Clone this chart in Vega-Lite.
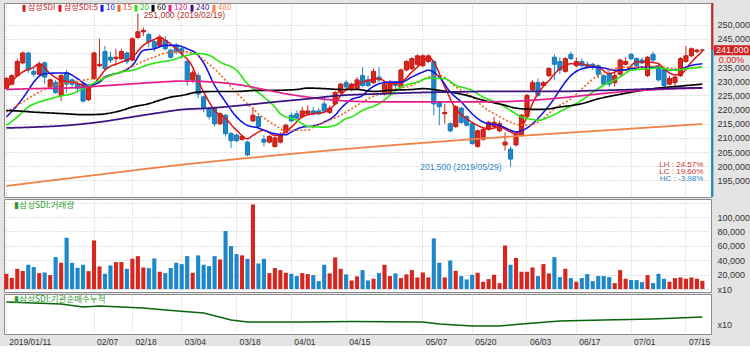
{
"$schema":"https://vega.github.io/schema/vega-lite/v6.json",
"background":"#e4e4e4",
"padding":{"left":3,"top":1,"right":0,"bottom":0},
"spacing":2,
"bounds":"flush",
"config":{
 "view":{"fill":"#ffffff","stroke":"#8c8c8c","strokeWidth":1},
 "axis":{"labelFont":"Liberation Sans","labelColor":"#333333","gridColor":"#c4c4c4","gridDash":[1,2],"gridWidth":1,"domain":false,"ticks":false,"title":null},
 "legend":{"columnPadding":-10,"labelOffset":0}
},
"resolve":{"scale":{"x":"shared","y":"independent","color":"independent"},"axis":{"x":"independent","y":"independent"}},
"datasets":{
"c":[
{"d":"01/11","o":227500,"h":231500,"l":227000,"c":231000,"v":21300,"t":"u"},
{"d":"01/14","o":229000,"h":232500,"l":228500,"c":232000,"v":15700,"t":"u"},
{"d":"01/15","o":232000,"h":238000,"l":231500,"c":237000,"v":28200,"t":"u"},
{"d":"01/16","o":236500,"h":240500,"l":236000,"c":240000,"v":25000,"t":"u"},
{"d":"01/17","o":240000,"h":240500,"l":233000,"c":234000,"v":33800,"t":"d"},
{"d":"01/18","o":233500,"h":235000,"l":231500,"c":232500,"v":30600,"t":"d"},
{"d":"01/21","o":232500,"h":237000,"l":232000,"c":236000,"v":22200,"t":"u"},
{"d":"01/22","o":236500,"h":237000,"l":229000,"c":231500,"v":23100,"t":"d"},
{"d":"01/23","o":228000,"h":231000,"l":227500,"c":230500,"v":19400,"t":"u"},
{"d":"01/24","o":229500,"h":230500,"l":225500,"c":226000,"v":44400,"t":"d"},
{"d":"01/25","o":225000,"h":232500,"l":223000,"c":232000,"v":36600,"t":"u"},
{"d":"01/28","o":233000,"h":234000,"l":226000,"c":229000,"v":71300,"t":"d"},
{"d":"01/29","o":230500,"h":231000,"l":228000,"c":229000,"v":36600,"t":"d"},
{"d":"01/30","o":229000,"h":230000,"l":226000,"c":227500,"v":29600,"t":"d"},
{"d":"01/31","o":229000,"h":229500,"l":222500,"c":223000,"v":33800,"t":"d"},
{"d":"02/01","o":223500,"h":228000,"l":223000,"c":227500,"v":25000,"t":"u"},
{"d":"02/07","o":231000,"h":240500,"l":230500,"c":240000,"v":67600,"t":"u"},
{"d":"02/08","o":235500,"h":245000,"l":235000,"c":236000,"v":31500,"t":"u"},
{"d":"02/11","o":240500,"h":242500,"l":234000,"c":234500,"v":21300,"t":"d"},
{"d":"02/12","o":238500,"h":240500,"l":236500,"c":237500,"v":32900,"t":"d"},
{"d":"02/13","o":238000,"h":241500,"l":235500,"c":238500,"v":37500,"t":"u"},
{"d":"02/14","o":238000,"h":241500,"l":237500,"c":240500,"v":37500,"t":"u"},
{"d":"02/15","o":240000,"h":240500,"l":236000,"c":237000,"v":28200,"t":"d"},
{"d":"02/18","o":237500,"h":245500,"l":237000,"c":245000,"v":42100,"t":"u"},
{"d":"02/19","o":245500,"h":251000,"l":245000,"c":247500,"v":45800,"t":"u"},
{"d":"02/20","o":247500,"h":249000,"l":246000,"c":248000,"v":30100,"t":"u"},
{"d":"02/21","o":246500,"h":247000,"l":242000,"c":244000,"v":29200,"t":"d"},
{"d":"02/22","o":244000,"h":244500,"l":240500,"c":242000,"v":42600,"t":"d"},
{"d":"02/25","o":242500,"h":246500,"l":242000,"c":245500,"v":24100,"t":"u"},
{"d":"02/26","o":244500,"h":246000,"l":241000,"c":241500,"v":22200,"t":"d"},
{"d":"02/27","o":241000,"h":241500,"l":238000,"c":238500,"v":29200,"t":"d"},
{"d":"02/28","o":242500,"h":243500,"l":239500,"c":240500,"v":36600,"t":"d"},
{"d":"03/04","o":241500,"h":242500,"l":238000,"c":240000,"v":34700,"t":"d"},
{"d":"03/05","o":237000,"h":237500,"l":228500,"c":230500,"v":45800,"t":"d"},
{"d":"03/06","o":230500,"h":234000,"l":229500,"c":233000,"v":22700,"t":"u"},
{"d":"03/07","o":232000,"h":233000,"l":224000,"c":225500,"v":46800,"t":"d"},
{"d":"03/08","o":224500,"h":225000,"l":219000,"c":220500,"v":33800,"t":"d"},
{"d":"03/11","o":220500,"h":221000,"l":216500,"c":217500,"v":31900,"t":"d"},
{"d":"03/12","o":220500,"h":221000,"l":214000,"c":215000,"v":45800,"t":"d"},
{"d":"03/13","o":215000,"h":219000,"l":214500,"c":218500,"v":41200,"t":"u"},
{"d":"03/14","o":218000,"h":218500,"l":210500,"c":211500,"v":80600,"t":"d"},
{"d":"03/15","o":211500,"h":212000,"l":206500,"c":209000,"v":59700,"t":"d"},
{"d":"03/18","o":211000,"h":211500,"l":208500,"c":209000,"v":48600,"t":"d"},
{"d":"03/19","o":209500,"h":211000,"l":209000,"c":210500,"v":46800,"t":"u"},
{"d":"03/20","o":208500,"h":209000,"l":203500,"c":204000,"v":42100,"t":"d"},
{"d":"03/21","o":216000,"h":221000,"l":215500,"c":218000,"v":117600,"t":"u"},
{"d":"03/22","o":217500,"h":218000,"l":213000,"c":214000,"v":35600,"t":"d"},
{"d":"03/25","o":209500,"h":211000,"l":207000,"c":208500,"v":42100,"t":"d"},
{"d":"03/26","o":208500,"h":211000,"l":208000,"c":210500,"v":22200,"t":"u"},
{"d":"03/27","o":207000,"h":211000,"l":206500,"c":210000,"v":29200,"t":"u"},
{"d":"03/28","o":208500,"h":212000,"l":208000,"c":211000,"v":26400,"t":"u"},
{"d":"03/29","o":212000,"h":215000,"l":211500,"c":214500,"v":22700,"t":"u"},
{"d":"04/01","o":218000,"h":219000,"l":215500,"c":216000,"v":21300,"t":"d"},
{"d":"04/02","o":218500,"h":219500,"l":216500,"c":217000,"v":18100,"t":"d"},
{"d":"04/03","o":217500,"h":221000,"l":217000,"c":219500,"v":22200,"t":"u"},
{"d":"04/04","o":218500,"h":221500,"l":218000,"c":219500,"v":20800,"t":"u"},
{"d":"04/05","o":219500,"h":221000,"l":218000,"c":218500,"v":19400,"t":"d"},
{"d":"04/08","o":219500,"h":220500,"l":218000,"c":218500,"v":11100,"t":"d"},
{"d":"04/09","o":222000,"h":224500,"l":219000,"c":219500,"v":33800,"t":"d"},
{"d":"04/10","o":219000,"h":221500,"l":218500,"c":220500,"v":21800,"t":"u"},
{"d":"04/11","o":222000,"h":226500,"l":221500,"c":226000,"v":44000,"t":"u"},
{"d":"04/12","o":226000,"h":229500,"l":225500,"c":229000,"v":28200,"t":"u"},
{"d":"04/15","o":229500,"h":230500,"l":227000,"c":228000,"v":20400,"t":"d"},
{"d":"04/16","o":227000,"h":229500,"l":226500,"c":229000,"v":12000,"t":"u"},
{"d":"04/17","o":227500,"h":231500,"l":227000,"c":230500,"v":17600,"t":"u"},
{"d":"04/18","o":232000,"h":235000,"l":228000,"c":228500,"v":26400,"t":"d"},
{"d":"04/19","o":230500,"h":232000,"l":228000,"c":228500,"v":12000,"t":"d"},
{"d":"04/22","o":229500,"h":234500,"l":229000,"c":233500,"v":14400,"t":"u"},
{"d":"04/23","o":231500,"h":235000,"l":229500,"c":230500,"v":22200,"t":"d"},
{"d":"04/24","o":225500,"h":229500,"l":225000,"c":229000,"v":33800,"t":"u"},
{"d":"04/25","o":226000,"h":230500,"l":225500,"c":229500,"v":18100,"t":"u"},
{"d":"04/26","o":229500,"h":230000,"l":227500,"c":228500,"v":21800,"t":"d"},
{"d":"04/29","o":228000,"h":234500,"l":227500,"c":234000,"v":15300,"t":"u"},
{"d":"04/30","o":234000,"h":237500,"l":233500,"c":237000,"v":20400,"t":"u"},
{"d":"05/02","o":234500,"h":238500,"l":234000,"c":238000,"v":26400,"t":"u"},
{"d":"05/03","o":236000,"h":239500,"l":235500,"c":239000,"v":16200,"t":"u"},
{"d":"05/07","o":235500,"h":239500,"l":235000,"c":239000,"v":23100,"t":"u"},
{"d":"05/08","o":237000,"h":239500,"l":236500,"c":239000,"v":16200,"t":"u"},
{"d":"05/09","o":237000,"h":237500,"l":218000,"c":222000,"v":70400,"t":"d"},
{"d":"05/10","o":222500,"h":223000,"l":214500,"c":221000,"v":36600,"t":"d"},
{"d":"05/13","o":218500,"h":222000,"l":215000,"c":219000,"v":16200,"t":"u"},
{"d":"05/14","o":215000,"h":215500,"l":212000,"c":212500,"v":39800,"t":"d"},
{"d":"05/15","o":214000,"h":221500,"l":213500,"c":221000,"v":25500,"t":"u"},
{"d":"05/16","o":220500,"h":221000,"l":215000,"c":215500,"v":18100,"t":"d"},
{"d":"05/17","o":217500,"h":218000,"l":214000,"c":214500,"v":13400,"t":"d"},
{"d":"05/20","o":215000,"h":215500,"l":207500,"c":208000,"v":19900,"t":"d"},
{"d":"05/21","o":207000,"h":213000,"l":206500,"c":212500,"v":22700,"t":"u"},
{"d":"05/22","o":209500,"h":213500,"l":209000,"c":213000,"v":10200,"t":"u"},
{"d":"05/23","o":213000,"h":216000,"l":212500,"c":215500,"v":13900,"t":"u"},
{"d":"05/24","o":214000,"h":217500,"l":213500,"c":215500,"v":19900,"t":"u"},
{"d":"05/27","o":212500,"h":216000,"l":212000,"c":215000,"v":8300,"t":"u"},
{"d":"05/28","o":207500,"h":212000,"l":205500,"c":208500,"v":60600,"t":"u"},
{"d":"05/29","o":206000,"h":207000,"l":201500,"c":202500,"v":33800,"t":"d"},
{"d":"05/30","o":207500,"h":212000,"l":207000,"c":211500,"v":43100,"t":"u"},
{"d":"05/31","o":211000,"h":218500,"l":210500,"c":218000,"v":24100,"t":"u"},
{"d":"06/03","o":217500,"h":225500,"l":217000,"c":225000,"v":24100,"t":"u"},
{"d":"06/04","o":227000,"h":230500,"l":226500,"c":229500,"v":30100,"t":"u"},
{"d":"06/05","o":229500,"h":231000,"l":224500,"c":225000,"v":18100,"t":"d"},
{"d":"06/07","o":228500,"h":230000,"l":228000,"c":229500,"v":34700,"t":"u"},
{"d":"06/10","o":232000,"h":235000,"l":231500,"c":234500,"v":21800,"t":"u"},
{"d":"06/11","o":238500,"h":239500,"l":230500,"c":236000,"v":44400,"t":"d"},
{"d":"06/12","o":237000,"h":238500,"l":232500,"c":234000,"v":16700,"t":"d"},
{"d":"06/13","o":233500,"h":238500,"l":233000,"c":238000,"v":28200,"t":"u"},
{"d":"06/14","o":239500,"h":240500,"l":237500,"c":238000,"v":15300,"t":"d"},
{"d":"06/17","o":235500,"h":238500,"l":235000,"c":237000,"v":10200,"t":"u"},
{"d":"06/18","o":237000,"h":238000,"l":235000,"c":235500,"v":15300,"t":"d"},
{"d":"06/19","o":236000,"h":237000,"l":234500,"c":235000,"v":20800,"t":"d"},
{"d":"06/20","o":236000,"h":236500,"l":234000,"c":235000,"v":11100,"t":"d"},
{"d":"06/21","o":235500,"h":236000,"l":231000,"c":232500,"v":18100,"t":"d"},
{"d":"06/24","o":232000,"h":232500,"l":228500,"c":229000,"v":18100,"t":"d"},
{"d":"06/25","o":232500,"h":233500,"l":228000,"c":229000,"v":16700,"t":"d"},
{"d":"06/26","o":229500,"h":233000,"l":228000,"c":232000,"v":8300,"t":"u"},
{"d":"06/27","o":232500,"h":238000,"l":232000,"c":237500,"v":26400,"t":"u"},
{"d":"06/28","o":236000,"h":238500,"l":235500,"c":237000,"v":14400,"t":"u"},
{"d":"07/01","o":239500,"h":240000,"l":237500,"c":238000,"v":12500,"t":"d"},
{"d":"07/02","o":238000,"h":238500,"l":235000,"c":235500,"v":12500,"t":"d"},
{"d":"07/03","o":237500,"h":238500,"l":236000,"c":236500,"v":9700,"t":"d"},
{"d":"07/04","o":232000,"h":239000,"l":231500,"c":238500,"v":19400,"t":"u"},
{"d":"07/05","o":239500,"h":240500,"l":237000,"c":237500,"v":8300,"t":"d"},
{"d":"07/08","o":235500,"h":236000,"l":230000,"c":230500,"v":21300,"t":"d"},
{"d":"07/09","o":234000,"h":234500,"l":228000,"c":228500,"v":14400,"t":"d"},
{"d":"07/10","o":229000,"h":232000,"l":228500,"c":231000,"v":10200,"t":"u"},
{"d":"07/11","o":229500,"h":232500,"l":227500,"c":231500,"v":15300,"t":"u"},
{"d":"07/12","o":232000,"h":238500,"l":231500,"c":238000,"v":16200,"t":"u"},
{"d":"07/15","o":237000,"h":242500,"l":236500,"c":239000,"v":14400,"t":"u"},
{"d":"07/16","o":239000,"h":242000,"l":238500,"c":241500,"v":16200,"t":"u"},
{"d":"07/17","o":240500,"h":241500,"l":240000,"c":241000,"v":14400,"t":"u"},
{"d":"07/18","o":241000,"h":241500,"l":240500,"c":241000,"v":11500,"t":"u"}
],
"ma":[
{"d":"01/11","s":"5","v":227400},{"d":"01/15","s":"5","v":231900},{"d":"01/16","s":"5","v":233300},{"d":"01/18","s":"5","v":235000},{"d":"01/21","s":"5","v":236200},{"d":"01/23","s":"5","v":232700},{"d":"01/25","s":"5","v":230300},{"d":"01/29","s":"5","v":229700},{"d":"01/31","s":"5","v":228600},{"d":"02/01","s":"5","v":227600},{"d":"02/08","s":"5","v":231500},{"d":"02/11","s":"5","v":233900},{"d":"02/14","s":"5","v":236800},{"d":"02/18","s":"5","v":238600},{"d":"02/20","s":"5","v":242700},{"d":"02/22","s":"5","v":244800},{"d":"02/25","s":"5","v":245600},{"d":"02/26","s":"5","v":244500},{"d":"02/28","s":"5","v":241500},{"d":"03/04","s":"5","v":239700},{"d":"03/06","s":"5","v":235000},{"d":"03/07","s":"5","v":230300},{"d":"03/11","s":"5","v":222700},{"d":"03/12","s":"5","v":219700},{"d":"03/14","s":"5","v":216800},{"d":"03/18","s":"5","v":212700},{"d":"03/20","s":"5","v":209700},{"d":"03/21","s":"5","v":210900},{"d":"03/25","s":"5","v":212700},{"d":"03/27","s":"5","v":210900},{"d":"03/28","s":"5","v":211100},{"d":"04/01","s":"5","v":213800},{"d":"04/03","s":"5","v":217400},{"d":"04/05","s":"5","v":218500},{"d":"04/09","s":"5","v":219100},{"d":"04/11","s":"5","v":222100},{"d":"04/12","s":"5","v":225000},{"d":"04/16","s":"5","v":228300},{"d":"04/18","s":"5","v":229700},{"d":"04/19","s":"5","v":230300},{"d":"04/23","s":"5","v":230900},{"d":"04/25","s":"5","v":229100},{"d":"04/29","s":"5","v":229700},{"d":"05/02","s":"5","v":233300},{"d":"05/07","s":"5","v":236800},{"d":"05/08","s":"5","v":238600},{"d":"05/09","s":"5","v":236800},{"d":"05/13","s":"5","v":228000},{"d":"05/15","s":"5","v":220300},{"d":"05/17","s":"5","v":216800},{"d":"05/21","s":"5","v":214400},{"d":"05/23","s":"5","v":213200},{"d":"05/27","s":"5","v":213800},{"d":"05/29","s":"5","v":212100},{"d":"05/30","s":"5","v":211500},{"d":"05/31","s":"5","v":213800},{"d":"06/03","s":"5","v":217400},{"d":"06/04","s":"5","v":222100},{"d":"06/05","s":"5","v":225600},{"d":"06/10","s":"5","v":230300},{"d":"06/12","s":"5","v":234400},{"d":"06/14","s":"5","v":236200},{"d":"06/18","s":"5","v":236200},{"d":"06/19","s":"5","v":235600},{"d":"06/21","s":"5","v":235000},{"d":"06/25","s":"5","v":232700},{"d":"06/27","s":"5","v":233900},{"d":"06/28","s":"5","v":234000},{"d":"07/02","s":"5","v":236800},{"d":"07/04","s":"5","v":236800},{"d":"07/08","s":"5","v":236200},{"d":"07/09","s":"5","v":234400},{"d":"07/11","s":"5","v":232300},{"d":"07/12","s":"5","v":232500},{"d":"07/16","s":"5","v":236800},{"d":"07/18","s":"5","v":240600},
{"d":"01/11","s":"10","v":217400},{"d":"01/15","s":"10","v":221500},{"d":"01/17","s":"10","v":226800},{"d":"01/18","s":"10","v":229700},{"d":"01/22","s":"10","v":232700},{"d":"01/24","s":"10","v":232900},{"d":"01/28","s":"10","v":232900},{"d":"01/30","s":"10","v":230900},{"d":"02/01","s":"10","v":228600},{"d":"02/08","s":"10","v":229700},{"d":"02/11","s":"10","v":231500},{"d":"02/14","s":"10","v":233300},{"d":"02/18","s":"10","v":235600},{"d":"02/20","s":"10","v":240900},{"d":"02/22","s":"10","v":241500},{"d":"02/26","s":"10","v":242700},{"d":"02/28","s":"10","v":242700},{"d":"03/05","s":"10","v":241500},{"d":"03/07","s":"10","v":239200},{"d":"03/08","s":"10","v":236500},{"d":"03/12","s":"10","v":228600},{"d":"03/14","s":"10","v":222700},{"d":"03/18","s":"10","v":217400},{"d":"03/20","s":"10","v":214400},{"d":"03/22","s":"10","v":213500},{"d":"03/25","s":"10","v":212700},{"d":"03/27","s":"10","v":211500},{"d":"03/29","s":"10","v":211100},{"d":"04/01","s":"10","v":212100},{"d":"04/03","s":"10","v":213800},{"d":"04/05","s":"10","v":214200},{"d":"04/09","s":"10","v":215600},{"d":"04/11","s":"10","v":218000},{"d":"04/12","s":"10","v":220300},{"d":"04/16","s":"10","v":223600},{"d":"04/18","s":"10","v":225000},{"d":"04/19","s":"10","v":226800},{"d":"04/23","s":"10","v":229100},{"d":"04/25","s":"10","v":229700},{"d":"04/29","s":"10","v":229700},{"d":"05/02","s":"10","v":231500},{"d":"05/07","s":"10","v":233300},{"d":"05/08","s":"10","v":233900},{"d":"05/10","s":"10","v":231500},{"d":"05/14","s":"10","v":226200},{"d":"05/16","s":"10","v":222700},{"d":"05/20","s":"10","v":218500},{"d":"05/22","s":"10","v":215600},{"d":"05/23","s":"10","v":215000},{"d":"05/27","s":"10","v":214400},{"d":"05/29","s":"10","v":212700},{"d":"05/30","s":"10","v":212100},{"d":"06/03","s":"10","v":213500},{"d":"06/05","s":"10","v":216800},{"d":"06/07","s":"10","v":219000},{"d":"06/11","s":"10","v":224000},{"d":"06/12","s":"10","v":227000},{"d":"06/14","s":"10","v":232000},{"d":"06/18","s":"10","v":234400},{"d":"06/20","s":"10","v":235000},{"d":"06/24","s":"10","v":234700},{"d":"06/26","s":"10","v":233900},{"d":"06/27","s":"10","v":233900},{"d":"07/01","s":"10","v":234400},{"d":"07/03","s":"10","v":235000},{"d":"07/05","s":"10","v":235000},{"d":"07/09","s":"10","v":234400},{"d":"07/11","s":"10","v":233900},{"d":"07/12","s":"10","v":234400},{"d":"07/16","s":"10","v":235600},{"d":"07/18","s":"10","v":236200},
{"d":"01/11","s":"15","v":219100},{"d":"01/16","s":"15","v":222700},{"d":"01/21","s":"15","v":226200},{"d":"01/24","s":"15","v":228600},{"d":"01/29","s":"15","v":229700},{"d":"02/01","s":"15","v":230700},{"d":"02/11","s":"15","v":231500},{"d":"02/14","s":"15","v":233300},{"d":"02/19","s":"15","v":236200},{"d":"02/22","s":"15","v":238600},{"d":"02/27","s":"15","v":240300},{"d":"03/05","s":"15","v":240300},{"d":"03/07","s":"15","v":239000},{"d":"03/11","s":"15","v":236000},{"d":"03/13","s":"15","v":232500},{"d":"03/15","s":"15","v":228000},{"d":"03/18","s":"15","v":226000},{"d":"03/20","s":"15","v":222000},{"d":"03/25","s":"15","v":217000},{"d":"03/27","s":"15","v":214500},{"d":"03/29","s":"15","v":212500},{"d":"04/01","s":"15","v":212700},{"d":"04/04","s":"15","v":212700},{"d":"04/05","s":"15","v":213800},{"d":"04/10","s":"15","v":216200},{"d":"04/12","s":"15","v":218000},{"d":"04/16","s":"15","v":220300},{"d":"04/19","s":"15","v":223800},{"d":"04/25","s":"15","v":226800},{"d":"05/02","s":"15","v":228600},{"d":"05/08","s":"15","v":231500},{"d":"05/10","s":"15","v":232100},{"d":"05/15","s":"15","v":228000},{"d":"05/20","s":"15","v":224500},{"d":"05/22","s":"15","v":221000},{"d":"05/27","s":"15","v":217500},{"d":"05/29","s":"15","v":215500},{"d":"05/31","s":"15","v":214500},{"d":"06/03","s":"15","v":214500},{"d":"06/05","s":"15","v":215500},{"d":"06/11","s":"15","v":220300},{"d":"06/14","s":"15","v":223800},{"d":"06/19","s":"15","v":229100},{"d":"06/21","s":"15","v":232100},{"d":"06/25","s":"15","v":233900},{"d":"06/28","s":"15","v":235000},{"d":"07/03","s":"15","v":235000},{"d":"07/08","s":"15","v":235400},{"d":"07/11","s":"15","v":234400},{"d":"07/16","s":"15","v":234700},{"d":"07/18","s":"15","v":235400},
{"d":"01/11","s":"20","v":214400},{"d":"01/15","s":"20","v":217400},{"d":"01/17","s":"20","v":220900},{"d":"01/21","s":"20","v":222700},{"d":"01/23","s":"20","v":223800},{"d":"01/25","s":"20","v":224800},{"d":"01/29","s":"20","v":225600},{"d":"01/31","s":"20","v":227400},{"d":"02/08","s":"20","v":230300},{"d":"02/12","s":"20","v":232100},{"d":"02/14","s":"20","v":233300},{"d":"02/18","s":"20","v":233900},{"d":"02/21","s":"20","v":235900},{"d":"02/25","s":"20","v":236800},{"d":"02/27","s":"20","v":237400},{"d":"02/28","s":"20","v":238000},{"d":"03/05","s":"20","v":239200},{"d":"03/07","s":"20","v":239800},{"d":"03/11","s":"20","v":239200},{"d":"03/13","s":"20","v":236800},{"d":"03/18","s":"20","v":233900},{"d":"03/20","s":"20","v":229100},{"d":"03/25","s":"20","v":224400},{"d":"03/27","s":"20","v":220900},{"d":"03/28","s":"20","v":218500},{"d":"04/02","s":"20","v":216200},{"d":"04/04","s":"20","v":214100},{"d":"04/09","s":"20","v":213800},{"d":"04/11","s":"20","v":214400},{"d":"04/15","s":"20","v":216800},{"d":"04/16","s":"20","v":217400},{"d":"04/18","s":"20","v":219700},{"d":"04/23","s":"20","v":222100},{"d":"04/25","s":"20","v":225000},{"d":"04/29","s":"20","v":228000},{"d":"05/03","s":"20","v":229700},{"d":"05/08","s":"20","v":231100},{"d":"05/13","s":"20","v":230900},{"d":"05/15","s":"20","v":228600},{"d":"05/20","s":"20","v":226800},{"d":"05/22","s":"20","v":224400},{"d":"05/27","s":"20","v":222100},{"d":"05/29","s":"20","v":219700},{"d":"05/31","s":"20","v":217400},{"d":"06/04","s":"20","v":216500},{"d":"06/05","s":"20","v":216200},{"d":"06/10","s":"20","v":217400},{"d":"06/13","s":"20","v":220300},{"d":"06/18","s":"20","v":223300},{"d":"06/20","s":"20","v":226200},{"d":"06/24","s":"20","v":228600},{"d":"06/27","s":"20","v":231500},{"d":"07/01","s":"20","v":233900},{"d":"07/04","s":"20","v":234400},{"d":"07/08","s":"20","v":234700},{"d":"07/11","s":"20","v":233900},{"d":"07/15","s":"20","v":234400},{"d":"07/18","s":"20","v":235000},
{"d":"01/11","s":"60","v":219700},{"d":"01/16","s":"60","v":219400},{"d":"01/18","s":"60","v":219100},{"d":"01/23","s":"60","v":218800},{"d":"01/28","s":"60","v":218500},{"d":"01/31","s":"60","v":218200},{"d":"02/08","s":"60","v":218300},{"d":"02/12","s":"60","v":218800},{"d":"02/14","s":"60","v":219700},{"d":"02/18","s":"60","v":220900},{"d":"02/21","s":"60","v":222100},{"d":"02/25","s":"60","v":223300},{"d":"02/27","s":"60","v":224400},{"d":"03/04","s":"60","v":225000},{"d":"03/07","s":"60","v":226200},{"d":"03/12","s":"60","v":226400},{"d":"03/18","s":"60","v":226400},{"d":"03/22","s":"60","v":226800},{"d":"03/27","s":"60","v":226800},{"d":"04/02","s":"60","v":227100},{"d":"04/04","s":"60","v":227600},{"d":"04/09","s":"60","v":227400},{"d":"04/12","s":"60","v":227100},{"d":"04/17","s":"60","v":227100},{"d":"04/22","s":"60","v":226400},{"d":"04/25","s":"60","v":226800},{"d":"05/02","s":"60","v":227100},{"d":"05/07","s":"60","v":227400},{"d":"05/10","s":"60","v":226800},{"d":"05/14","s":"60","v":226200},{"d":"05/17","s":"60","v":225000},{"d":"05/22","s":"60","v":223300},{"d":"05/28","s":"60","v":221500},{"d":"05/30","s":"60","v":220500},{"d":"06/04","s":"60","v":220100},{"d":"06/07","s":"60","v":220100},{"d":"06/12","s":"60","v":220900},{"d":"06/18","s":"60","v":222100},{"d":"06/21","s":"60","v":223800},{"d":"06/27","s":"60","v":225400},{"d":"07/03","s":"60","v":226800},{"d":"07/08","s":"60","v":227600},{"d":"07/12","s":"60","v":228300},{"d":"07/18","s":"60","v":229000},
{"d":"01/11","s":"120","v":227100},{"d":"01/18","s":"120","v":227400},{"d":"01/28","s":"120","v":227600},{"d":"02/08","s":"120","v":228300},{"d":"02/18","s":"120","v":229100},{"d":"02/25","s":"120","v":229700},{"d":"03/04","s":"120","v":230100},{"d":"03/07","s":"120","v":230000},{"d":"03/12","s":"120","v":229700},{"d":"03/19","s":"120","v":228600},{"d":"03/25","s":"120","v":227100},{"d":"03/29","s":"120","v":225600},{"d":"04/04","s":"120","v":224400},{"d":"04/11","s":"120","v":223300},{"d":"04/17","s":"120","v":222900},{"d":"04/24","s":"120","v":222700},{"d":"05/03","s":"120","v":222700},{"d":"05/14","s":"120","v":222700},{"d":"05/22","s":"120","v":222700},{"d":"05/29","s":"120","v":222900},{"d":"06/04","s":"120","v":223300},{"d":"06/12","s":"120","v":224100},{"d":"06/20","s":"120","v":225300},{"d":"06/28","s":"120","v":226400},{"d":"07/08","s":"120","v":227100},{"d":"07/18","s":"120","v":227600},
{"d":"01/11","s":"240","v":213500},{"d":"01/18","s":"240","v":213800},{"d":"01/28","s":"240","v":214400},{"d":"02/08","s":"240","v":215600},{"d":"02/18","s":"240","v":217400},{"d":"02/25","s":"240","v":218900},{"d":"03/04","s":"240","v":220000},{"d":"03/11","s":"240","v":220500},{"d":"03/19","s":"240","v":221500},{"d":"03/27","s":"240","v":222700},{"d":"04/04","s":"240","v":223800},{"d":"04/12","s":"240","v":225000},{"d":"04/17","s":"240","v":225300},{"d":"04/24","s":"240","v":225600},{"d":"05/03","s":"240","v":226000},{"d":"05/14","s":"240","v":226200},{"d":"05/22","s":"240","v":226400},{"d":"06/04","s":"240","v":226400},{"d":"06/12","s":"240","v":226400},{"d":"06/20","s":"240","v":226700},{"d":"06/28","s":"240","v":227000},{"d":"07/08","s":"240","v":227400},{"d":"07/18","s":"240","v":227700},
{"d":"01/11","s":"480","v":193000},{"d":"02/07","s":"480","v":196800},{"d":"03/04","s":"480","v":200500},{"d":"03/26","s":"480","v":203600},{"d":"04/17","s":"480","v":206400},{"d":"05/13","s":"480","v":208800},{"d":"06/04","s":"480","v":211000},{"d":"06/27","s":"480","v":213000},{"d":"07/18","s":"480","v":214900}
],
"inst":[
{"d":"01/11","v":32},{"d":"01/25","v":30},{"d":"01/31","v":27},{"d":"02/08","v":28},{"d":"02/20","v":26},{"d":"02/26","v":24},{"d":"03/08","v":21},{"d":"03/15","v":14},{"d":"03/20","v":12},{"d":"04/03","v":12},{"d":"04/16","v":12.5},{"d":"05/07","v":12},{"d":"05/10","v":10},{"d":"05/20","v":8},{"d":"05/27","v":8},{"d":"05/31","v":10},{"d":"06/12","v":13},{"d":"06/24","v":14},{"d":"07/05","v":15},{"d":"07/18","v":17}
]
},
"vconcat":[
{
 "width":707,"height":194,
 "encoding":{
  "x":{"field":"d","type":"ordinal","scale":{"paddingInner":0.25,"paddingOuter":0.625,"align":0.04},"axis":{"values":["01/11","02/07","02/18","03/04","03/18","04/01","04/15","05/07","05/20","06/03","06/17","07/01","07/15"],"labels":false,"grid":true,"bandPosition":0.5}}
 },
 "layer":[
  {"data":{"name":"c"},"mark":{"type":"rule","strokeWidth":1,"clip":true},
   "encoding":{
    "y":{"field":"l","type":"quantitative","scale":{"domain":[189100,257670],"nice":false,"zero":false},"axis":{"orient":"right","values":[195000,200000,205000,210000,215000,220000,225000,230000,235000,240000,245000,250000],"labelExpr":"datum.value==240000?'':format(datum.value,',')","labelFontSize":9,"labelPadding":6,"grid":true}},
    "y2":{"field":"h"},
    "color":{"condition":{"test":"datum.t=='u'","value":"#d7261e"},"value":"#1c87c9"}}},
  {"data":{"name":"c"},"mark":{"type":"bar","strokeWidth":1,"clip":true},
   "encoding":{
    "y":{"field":"o","type":"quantitative","scale":{"domain":[189100,257670],"nice":false,"zero":false},"axis":{"orient":"right","values":[195000,200000,205000,210000,215000,220000,225000,230000,235000,240000,245000,250000],"labelExpr":"datum.value==240000?'':format(datum.value,',')","labelFontSize":9,"labelPadding":6,"grid":true}},
    "y2":{"field":"c"},
    "fill":{"condition":{"test":"datum.t=='u'","value":"#d7261e"},"value":"#1c87c9"},
    "stroke":{"condition":{"test":"datum.t=='u'","value":"#c01810"},"value":"#1878b4"}}},
  {"data":{"name":"ma"},"mark":{"type":"line","interpolate":"monotone","clip":true},
   "encoding":{
    "y":{"field":"v","type":"quantitative","scale":{"domain":[189100,257670],"nice":false,"zero":false},"axis":{"orient":"right","values":[195000,200000,205000,210000,215000,220000,225000,230000,235000,240000,245000,250000],"labelExpr":"datum.value==240000?'':format(datum.value,',')","labelFontSize":9,"labelPadding":6,"grid":true}},
    "color":{"field":"s","type":"nominal","scale":{"domain":["삼성SDI","5","10","15","20","60","120","240","480"],"range":["#d02020","#e01414","#1414e6","#f0641e","#2ce614","#000000","#e61e8c","#3c1482","#f08246"]},
     "legend":{"orient":"none","legendX":16,"legendY":1,"direction":"horizontal","columns":9,"title":null,"symbolType":"M0,-2.3V2.3","symbolSize":9,"symbolStrokeWidth":3,"labelFont":"Noto Sans CJK KR","labelFontSize":8,"labelOffset":0,"columnPadding":-10,"padding":0,
      "labelExpr":"datum.label=='5'?'삼성SDI:5':datum.label",
      "labelColor":{"expr":"datum.value=='10'?'#1414e6':datum.value=='15'?'#f04a1e':datum.value=='20'?'#22cc00':datum.value=='60'?'#000000':datum.value=='120'?'#e0208c':datum.value=='240'?'#3c148c':datum.value=='480'?'#f08c50':'#c82020'"}}},
    "strokeWidth":{"field":"s","type":"nominal","scale":{"domain":["삼성SDI","5","10","15","20","60","120","240","480"],"range":[1.5,1.8,1.6,1,1.6,1.5,1.5,1.5,2]},"legend":null},
    "strokeDash":{"field":"s","type":"nominal","scale":{"domain":["삼성SDI","5","10","15","20","60","120","240","480"],"range":[[1,0],[1,0],[1,0],[2,2],[1,0],[1,0],[1,0],[1,0],[1,0]]},"legend":null}}},
  {"data":{"values":[{"d":"02/19"}]},"mark":{"type":"rule","color":"#b03030","clip":false},
   "encoding":{"y":{"datum":251000,"type":"quantitative","scale":{"domain":[189100,257670],"nice":false,"zero":false},"axis":{"orient":"right","values":[195000,200000,205000,210000,215000,220000,225000,230000,235000,240000,245000,250000],"labelExpr":"datum.value==240000?'':format(datum.value,',')","labelFontSize":9,"labelPadding":6,"grid":true}},"y2":{"datum":254000}}},
  {"data":{"values":[{"d":"02/19","t":"251,000 (2019/02/19)"}]},"mark":{"type":"text","align":"left","baseline":"middle","dx":6,"font":"Liberation Sans","fontSize":8.5,"color":"#b03030","clip":false},
   "encoding":{"y":{"datum":253300,"type":"quantitative","scale":{"domain":[189100,257670],"nice":false,"zero":false},"axis":{"orient":"right","values":[195000,200000,205000,210000,215000,220000,225000,230000,235000,240000,245000,250000],"labelExpr":"datum.value==240000?'':format(datum.value,',')","labelFontSize":9,"labelPadding":6,"grid":true}},"text":{"field":"t"}}},
  {"data":{"values":[{"d":"05/29"}]},"mark":{"type":"rule","color":"#2a86c0","clip":false},
   "encoding":{"y":{"datum":201500,"type":"quantitative","scale":{"domain":[189100,257670],"nice":false,"zero":false},"axis":{"orient":"right","values":[195000,200000,205000,210000,215000,220000,225000,230000,235000,240000,245000,250000],"labelExpr":"datum.value==240000?'':format(datum.value,',')","labelFontSize":9,"labelPadding":6,"grid":true}},"y2":{"datum":199700}}},
  {"data":{"values":[{"d":"05/29","t":"201,500 (2019/05/29)"}]},"mark":{"type":"text","align":"right","baseline":"middle","dx":-9,"font":"Liberation Sans","fontSize":8.5,"color":"#2a86c0","clip":false},
   "encoding":{"y":{"datum":199700,"type":"quantitative","scale":{"domain":[189100,257670],"nice":false,"zero":false},"axis":{"orient":"right","values":[195000,200000,205000,210000,215000,220000,225000,230000,235000,240000,245000,250000],"labelExpr":"datum.value==240000?'':format(datum.value,',')","labelFontSize":9,"labelPadding":6,"grid":true}},"text":{"field":"t"}}},
  {"data":{"values":[{"d":"07/18","t":"LH : 24.57%"}]},"mark":{"type":"text","align":"right","baseline":"middle","dx":1,"font":"Liberation Sans","fontSize":8,"color":"#d03030","clip":false},
   "encoding":{"y":{"datum":200400,"type":"quantitative","scale":{"domain":[189100,257670],"nice":false,"zero":false},"axis":{"orient":"right","values":[195000,200000,205000,210000,215000,220000,225000,230000,235000,240000,245000,250000],"labelExpr":"datum.value==240000?'':format(datum.value,',')","labelFontSize":9,"labelPadding":6,"grid":true}},"text":{"field":"t"}}},
  {"data":{"values":[{"d":"07/18","t":"LC : 19.60%"}]},"mark":{"type":"text","align":"right","baseline":"middle","dx":1,"font":"Liberation Sans","fontSize":8,"color":"#d03030","clip":false},
   "encoding":{"y":{"datum":197930,"type":"quantitative","scale":{"domain":[189100,257670],"nice":false,"zero":false},"axis":{"orient":"right","values":[195000,200000,205000,210000,215000,220000,225000,230000,235000,240000,245000,250000],"labelExpr":"datum.value==240000?'':format(datum.value,',')","labelFontSize":9,"labelPadding":6,"grid":true}},"text":{"field":"t"}}},
  {"data":{"values":[{"d":"07/18","t":"HC : -3.98%"}]},"mark":{"type":"text","align":"right","baseline":"middle","dx":1,"font":"Liberation Sans","fontSize":8,"color":"#2a86c0","clip":false},
   "encoding":{"y":{"datum":195450,"type":"quantitative","scale":{"domain":[189100,257670],"nice":false,"zero":false},"axis":{"orient":"right","values":[195000,200000,205000,210000,215000,220000,225000,230000,235000,240000,245000,250000],"labelExpr":"datum.value==240000?'':format(datum.value,',')","labelFontSize":9,"labelPadding":6,"grid":true}},"text":{"field":"t"}}},
  {"data":{"values":[{"d":"07/18"}]},"mark":{"type":"rule","color":"#d42020","strokeWidth":2,"xOffset":10,"clip":false},
   "encoding":{"y":{"datum":257670,"type":"quantitative","scale":{"domain":[189100,257670],"nice":false,"zero":false},"axis":{"orient":"right","values":[195000,200000,205000,210000,215000,220000,225000,230000,235000,240000,245000,250000],"labelExpr":"datum.value==240000?'':format(datum.value,',')","labelFontSize":9,"labelPadding":6,"grid":true}},"y2":{"datum":241000}}},
  {"data":{"values":[{"d":"07/18"}]},"mark":{"type":"rule","color":"#1c87c9","strokeWidth":2,"xOffset":10,"clip":false},
   "encoding":{"y":{"datum":241000,"type":"quantitative","scale":{"domain":[189100,257670],"nice":false,"zero":false},"axis":{"orient":"right","values":[195000,200000,205000,210000,215000,220000,225000,230000,235000,240000,245000,250000],"labelExpr":"datum.value==240000?'':format(datum.value,',')","labelFontSize":9,"labelPadding":6,"grid":true}},"y2":{"datum":189100}}},
  {"data":{"values":[{"d":"07/18"}]},"mark":{"type":"point","shape":"M-1,-0.27H1V0.27H-1Z","size":1369,"filled":true,"opacity":1,"color":"#d42020","xOffset":30,"clip":false},
   "encoding":{"y":{"datum":241000,"type":"quantitative","scale":{"domain":[189100,257670],"nice":false,"zero":false},"axis":{"orient":"right","values":[195000,200000,205000,210000,215000,220000,225000,230000,235000,240000,245000,250000],"labelExpr":"datum.value==240000?'':format(datum.value,',')","labelFontSize":9,"labelPadding":6,"grid":true}}}},
  {"data":{"values":[{"d":"07/18","t":"241,000"}]},"mark":{"type":"text","align":"center","baseline":"middle","dx":30,"font":"Liberation Sans","fontSize":9,"color":"#ffffff","clip":false},
   "encoding":{"y":{"datum":241000,"type":"quantitative","scale":{"domain":[189100,257670],"nice":false,"zero":false},"axis":{"orient":"right","values":[195000,200000,205000,210000,215000,220000,225000,230000,235000,240000,245000,250000],"labelExpr":"datum.value==240000?'':format(datum.value,',')","labelFontSize":9,"labelPadding":6,"grid":true}},"text":{"field":"t"}}},
  {"data":{"values":[{"d":"07/18","t":"0.00%"}]},"mark":{"type":"text","align":"right","baseline":"middle","dx":42,"dy":10,"font":"Liberation Sans","fontSize":9,"color":"#d42020","clip":false},
   "encoding":{"y":{"datum":241000,"type":"quantitative","scale":{"domain":[189100,257670],"nice":false,"zero":false},"axis":{"orient":"right","values":[195000,200000,205000,210000,215000,220000,225000,230000,235000,240000,245000,250000],"labelExpr":"datum.value==240000?'':format(datum.value,',')","labelFontSize":9,"labelPadding":6,"grid":true}},"text":{"field":"t"}}}
 ]
},
{
 "width":707,"height":93,
 "encoding":{
  "x":{"field":"d","type":"ordinal","scale":{"paddingInner":0.25,"paddingOuter":0.625,"align":0.04},"axis":{"values":["01/11","02/07","02/18","03/04","03/18","04/01","04/15","05/07","05/20","06/03","06/17","07/01","07/15"],"labels":false,"grid":true,"bandPosition":0.5}}
 },
 "layer":[
  {"data":{"name":"c"},"mark":{"type":"bar","clip":true},
   "encoding":{
    "y":{"field":"v","type":"quantitative","scale":{"domain":[-4030,125140],"nice":false},"axis":{"orient":"right","values":[0,20000,40000,60000,80000,100000,120000],"labelExpr":"datum.value==0?'x10':datum.value>=120000?'':format(datum.value,',')","labelFontSize":9,"labelPadding":6,"grid":true}},
    "color":{"condition":{"test":"datum.t=='u'","value":"#d7261e"},"value":"#1c87c9"}}},
  {"data":{"values":[{"d":"01/11","t":"▮삼성SDI:거래량"}]},"mark":{"type":"text","align":"left","baseline":"top","dx":8,"dy":2,"font":"Noto Sans CJK KR","fontSize":8.5,"color":"#2e9a2e","clip":false},
   "encoding":{
    "y":{"datum":125140,"type":"quantitative","scale":{"domain":[-4030,125140],"nice":false},"axis":{"orient":"right","values":[0,20000,40000,60000,80000,100000,120000],"labelExpr":"datum.value==0?'x10':datum.value>=120000?'':format(datum.value,',')","labelFontSize":9,"labelPadding":6,"grid":true}},
    "text":{"field":"t"}}}
 ]
},
{
 "width":707,"height":40,
 "encoding":{
  "x":{"field":"d","type":"ordinal","scale":{"paddingInner":0.25,"paddingOuter":0.625,"align":0.04},"axis":{"values":["01/11","02/07","02/18","03/04","03/18","04/01","04/15","05/07","05/20","06/03","06/17","07/01","07/15"],"labelExpr":"datum.value=='01/11'?'2019/01/11':datum.value","labelAngle":0,"labelAlign":"left","labelBaseline":"top","labelOffset":3,"labelFontSize":8.5,"labelPadding":3,"grid":true,"bandPosition":0.5}}
 },
 "layer":[
  {"data":{"name":"inst"},"mark":{"type":"line","color":"#0a640a","strokeWidth":1.5,"clip":true},
   "encoding":{
    "y":{"field":"v","type":"quantitative","scale":{"domain":[0,40],"nice":false,"zero":false},"axis":{"orient":"right","values":[10],"labelExpr":"'x10'","labelFontSize":9,"labelPadding":6,"grid":false}}}},
  {"data":{"values":[{"d":"01/11","t":"▮삼성SDI:기관순매수누적"}]},"mark":{"type":"text","align":"left","baseline":"top","dx":8,"dy":1,"font":"Noto Sans CJK KR","fontSize":8.5,"color":"#2e9a2e","clip":false},
   "encoding":{
    "y":{"datum":40,"type":"quantitative","scale":{"domain":[0,40],"nice":false,"zero":false},"axis":{"orient":"right","values":[10],"labelExpr":"'x10'","labelFontSize":9,"labelPadding":6,"grid":false}},
    "text":{"field":"t"}}}
 ]
}
]
}
